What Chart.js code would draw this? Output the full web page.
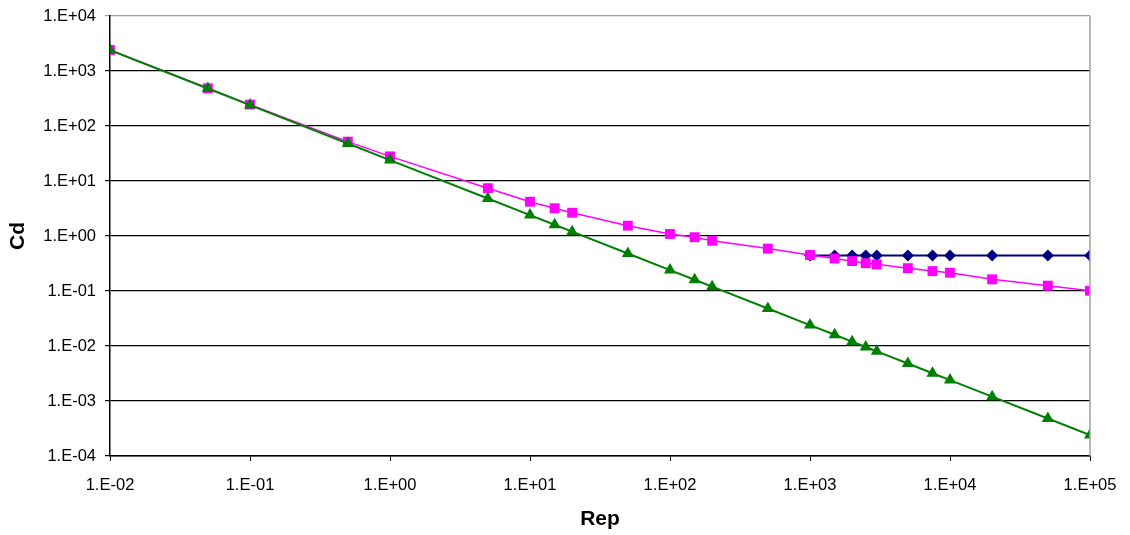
<!DOCTYPE html>
<html>
<head>
<meta charset="utf-8">
<script src="https://cdn.jsdelivr.net/npm/chart.js@4"></script>
<style>
  html, body { margin: 0; padding: 0; background: #fff; }
  #wrap { width: 1130px; height: 535px; }
</style>
</head>
<body>
<div id="wrap"><canvas id="cdChart" width="1130" height="535"></canvas></div>
<script>
// particle Reynolds numbers
const rep = [0.01, 0.05, 0.1, 0.5, 1, 5, 10, 15, 20, 50, 100, 150, 200, 500,
  1000, 1500, 2000, 2500, 3000, 5000, 7500, 10000, 20000, 50000, 100000];

// Stokes regime drag
const cdStokes = [2400, 480, 240, 48, 24, 4.8, 2.4, 1.6, 1.2, 0.48, 0.24, 0.16, 0.12, 0.048,
  0.024, 0.016, 0.012, 0.0096, 0.008, 0.0048, 0.0032, 0.0024, 0.0012, 0.00048, 0.00024];

// general drag curve
const cdGeneral = [2410, 485, 245, 52, 28, 7.4, 4.2, 3.2, 2.65, 1.54, 1.09, 0.95, 0.82, 0.59,
  0.45, 0.39, 0.35, 0.32, 0.305, 0.26, 0.23, 0.215, 0.163, 0.125, 0.101];

// Newton regime, constant drag
const repNewton = [1000, 1500, 2000, 2500, 3000, 5000, 7500, 10000, 20000, 50000, 100000];
const cdNewton = [0.44, 0.44, 0.44, 0.44, 0.44, 0.44, 0.44, 0.44, 0.44, 0.44, 0.44];

const xTicks = [1e-2, 1e-1, 1e0, 1e1, 1e2, 1e3, 1e4, 1e5];
const yTicks = [1e-4, 1e-3, 1e-2, 1e-1, 1e0, 1e1, 1e2, 1e3, 1e4];

function pts(xs, ys) {
  return xs.map((x, i) => ({ x: x, y: ys[i] }));
}

// Excel-like "1.E+03" labels
function sci(v) {
  const e = Math.round(Math.log10(v));
  const s = e < 0 ? "-" : "+";
  return "1.E" + s + String(Math.abs(e)).padStart(2, "0");
}

const font = "'Liberation Sans', Arial, sans-serif";

// gray frame on the right side of the plot
const rightBorder = {
  id: "rightBorder",
  afterDatasetsDraw(chart) {
    const a = chart.chartArea;
    const ctx = chart.ctx;
    ctx.save();
    ctx.strokeStyle = "#a0a0a0";
    ctx.lineWidth = 1.5;
    ctx.beginPath();
    ctx.moveTo(a.right, a.top);
    ctx.lineTo(a.right, a.bottom);
    ctx.stroke();
    ctx.restore();
  }
};

new Chart(document.getElementById("cdChart"), {
  type: "line",
  data: {
    datasets: [
      {
        label: "Stokes",
        data: pts(rep, cdStokes),
        borderColor: "#008000",
        backgroundColor: "#008000",
        borderWidth: 2,
        pointStyle: "triangle",
        pointRadius: 7,
        pointBorderWidth: 0,
        order: 0
      },
      {
        label: "General",
        data: pts(rep, cdGeneral),
        borderColor: "#ff00ff",
        backgroundColor: "#ff00ff",
        borderWidth: 1.5,
        pointStyle: "rect",
        pointRadius: 7,
        pointBorderWidth: 0,
        order: 1
      },
      {
        label: "Newton",
        data: pts(repNewton, cdNewton),
        borderColor: "#000080",
        backgroundColor: "#000080",
        borderWidth: 2,
        pointStyle: "rectRot",
        pointRadius: 6,
        pointBorderWidth: 0,
        order: 2
      }
    ]
  },
  options: {
    responsive: false,
    animation: false,
    layout: { padding: { top: 16, right: 40, left: 0, bottom: 0 } },
    plugins: {
      legend: { display: false },
      tooltip: { enabled: false }
    },
    elements: { line: { tension: 0 } },
    scales: {
      x: {
        type: "logarithmic",
        min: 1e-2,
        max: 1e5,
        afterBuildTicks: (s) => { s.ticks = xTicks.map((v) => ({ value: v })); },
        afterFit: (s) => {
          s.height = 79;
          s.paddingLeft = 0;
          s.paddingRight = 0;
        },
        ticks: {
          callback: (v) => sci(v),
          color: "#000",
          font: { family: font, size: 16.5 },
          padding: 15,
          maxRotation: 0,
          autoSkip: false
        },
        grid: { drawOnChartArea: false, tickLength: 5, color: "#000" },
        border: { color: "#000", width: 1.5 },
        title: {
          display: true,
          text: "Rep",
          color: "#000",
          font: { family: font, size: 21, weight: "bold" },
          padding: { top: 0, bottom: 3 }
        }
      },
      y: {
        type: "logarithmic",
        min: 1e-4,
        max: 1e4,
        afterBuildTicks: (s) => { s.ticks = yTicks.map((v) => ({ value: v })); },
        afterFit: (s) => {
          s.width = 110;
          s.paddingTop = 0;
          s.paddingBottom = 0;
        },
        ticks: {
          callback: (v) => sci(v),
          color: "#000",
          font: { family: font, size: 16.5 },
          padding: 9,
          autoSkip: false
        },
        grid: {
          tickLength: 5,
          lineWidth: 1.2,
          color: (c) => (c.tick && c.tick.value === 1e4 ? "#a0a0a0" : "#000")
        },
        border: { color: "#000", width: 1.5 },
        title: {
          display: true,
          text: "Cd",
          color: "#000",
          font: { family: font, size: 21, weight: "bold" },
          padding: { top: 6, bottom: 0 }
        }
      }
    }
  },
  plugins: [rightBorder]
});
</script>
</body>
</html>
